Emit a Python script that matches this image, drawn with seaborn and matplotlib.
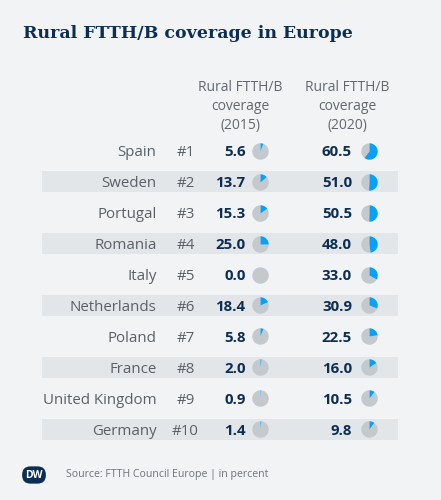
import numpy as np
import pandas as pd
import matplotlib
matplotlib.use("Agg")
import matplotlib.pyplot as plt
import seaborn as sns

countries = ["Spain", "Sweden", "Portugal", "Romania", "Italy", "Netherlands",
             "Poland", "France", "United Kingdom", "Germany"]
ranks = ["#1", "#2", "#3", "#4", "#5", "#6", "#7", "#8", "#9", "#10"]
cov_2015 = [5.6, 13.7, 15.3, 25.0, 0.0, 18.4, 5.8, 2.0, 0.9, 1.4]
cov_2020 = [60.5, 51.0, 50.5, 48.0, 33.0, 30.9, 22.5, 16.0, 10.5, 9.8]
headers = ["Rural FTTH/B\ncoverage\n(2015)", "Rural FTTH/B\ncoverage\n(2020)"]
title = "Rural FTTH/B coverage in Europe"
source = "Source: FTTH Council Europe | in percent"

df = pd.DataFrame({"country": countries, "rank": ranks,
                   "v2015": cov_2015, "v2020": cov_2020})
df["row"] = np.arange(len(df))

BG = "#f1f3f5"
BAND = "#e3e6e9"
NAVY = "#0c2e52"
GREY_TXT = "#5a6066"
BLUE = "#0aa0f5"
PIE_GREY = "#c4c9ce"

sns.set_theme(style="white")
plt.rcParams["font.family"] = ["Open Sans", "DejaVu Sans"]

W, H = 441, 500
fig = plt.figure(figsize=(W / 100, H / 100), dpi=100, facecolor=BG)

# table axes: x in pixel-like units, y in row units
top_px, bot_px = 135.5, 444.5
ax = fig.add_axes([0, 1 - bot_px / H, 1, (bot_px - top_px) / H])
ax.set_facecolor(BG)
ax.set_xlim(0, W)
ax.set_ylim(len(df) - 0.5, -0.5)
ax.axis("off")

# alternating bands
band_rows = df[df["row"] % 2 == 1]
ax.barh(band_rows["row"], width=356, left=42, height=0.68, color=BAND,
        linewidth=0, edgecolor="none", zorder=0)

X_COUNTRY = 156.5
X_RANK = 185.5
X_V15 = 245.5
X_P15 = 260
X_V20 = 352
X_P20 = 368.5
PIE_S = 140
FS = 10.8


def wedge_marker(start_frac, end_frac, n=60):
    # clockwise from top
    t = np.linspace(start_frac, end_frac, max(3, int(n * (end_frac - start_frac)) + 2))
    ang = np.pi / 2 - 2 * np.pi * t
    xs = np.concatenate([[0], np.cos(ang), [0]])
    ys = np.concatenate([[0], np.sin(ang), [0]])
    return np.column_stack([xs, ys])


def draw_pie(x, y, val):
    frac = val / 100.0
    if frac > 0:
        ax.scatter([x], [y], marker=wedge_marker(0, frac), s=PIE_S,
                   color=BLUE, linewidths=0, zorder=3)
    if frac < 1:
        ax.scatter([x], [y], marker=wedge_marker(frac, 1), s=PIE_S,
                   color=PIE_GREY, linewidths=0, zorder=2)


for _, r in df.iterrows():
    y = r["row"]
    ax.text(X_COUNTRY, y, r["country"], ha="right", va="center_baseline",
            fontsize=FS, color=GREY_TXT)
    ax.text(X_RANK, y, r["rank"], ha="center", va="center_baseline",
            fontsize=FS, color=GREY_TXT)
    ax.text(X_V15, y, f"{r['v2015']:.1f}", ha="right", va="center_baseline",
            fontsize=FS, color=NAVY, fontweight="bold")
    ax.text(X_V20, y, f"{r['v2020']:.1f}", ha="right", va="center_baseline",
            fontsize=FS, color=NAVY, fontweight="bold")
    draw_pie(X_P15, y, r["v2015"])
    draw_pie(X_P20, y, r["v2020"])

# title
fig.text(23 / W, 1 - 33 / H, title, ha="left", va="center",
         fontsize=12.5, color=NAVY, fontweight="bold", family="DejaVu Serif")

# headers
for cx, h in zip([240.5, 347.5], headers):
    fig.text(cx / W, 1 - 106.5 / H, h, ha="center", va="center",
             fontsize=10.0, color="#62686e", linespacing=1.32)

# footer
fig.text(34 / W, 1 - 475 / H, "DW", ha="center", va="center", fontsize=7.5,
         color="white", fontweight="bold",
         bbox=dict(boxstyle="round,pad=0.3,rounding_size=0.8", fc=NAVY, ec="none"))
fig.text(66 / W, 1 - 474 / H, source, ha="left", va="center",
         fontsize=7.6, color="#6e747a")

fig.savefig("out.png", dpi=100, facecolor=BG)
